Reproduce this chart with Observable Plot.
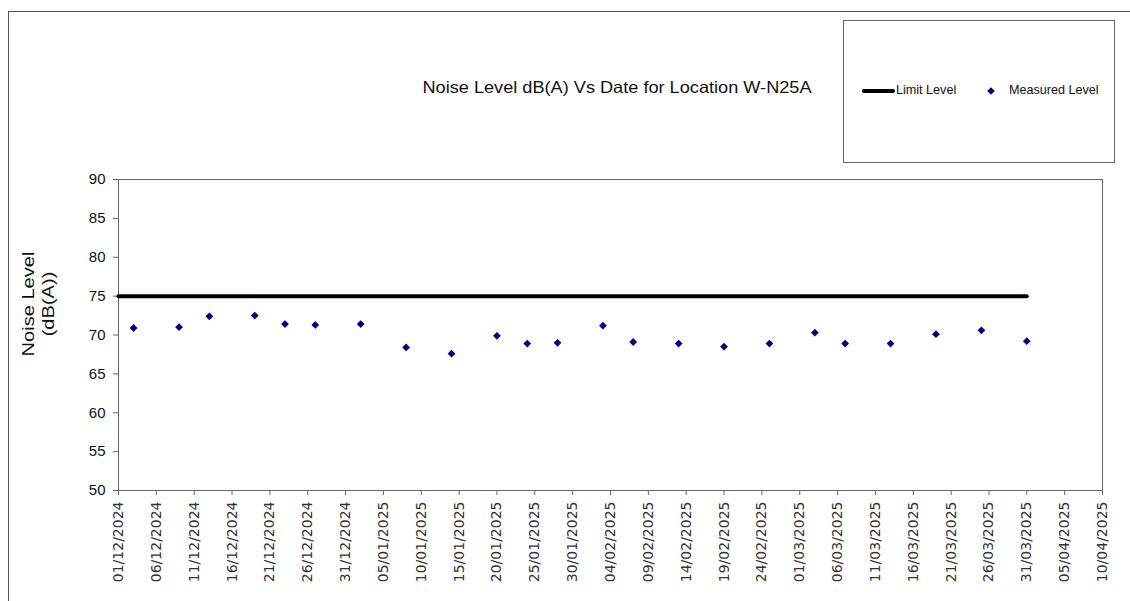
<!DOCTYPE html>
<html>
<head>
<meta charset="utf-8">
<script src="https://cdn.jsdelivr.net/npm/d3@7"></script>
<script src="https://cdn.jsdelivr.net/npm/@observablehq/plot@0.6"></script>
<style>
  html, body { margin: 0; padding: 0; background: #fff; }
  body { width: 1130px; height: 601px; position: relative; overflow: hidden; font-family: "Liberation Sans", Arial, sans-serif; }
  #chart { position: absolute; left: 0; top: 0; }
  #outer { position: absolute; left: 8px; top: 11px; width: 1200px; height: 700px; border-left: 1px solid #555; border-top: 1px solid #555; }
  #title { position: absolute; left: 617px; top: 87px; transform: translate(-50%, -50%) scaleX(1.1); font-size: 16.5px; color: #111; white-space: nowrap; }
  #ylabel { position: absolute; left: 39px; top: 304px; width: 200px; transform: translate(-50%, -50%) rotate(-90deg) scaleX(1.18); text-align: center; font-size: 17px; line-height: 20px; color: #111; }
  #legend { position: absolute; left: 843px; top: 20px; width: 270px; height: 141px; border: 1px solid #666; background: #fff; }
  #legend .txt { position: absolute; font-size: 12.6px; color: #111; white-space: nowrap; top: 62px; }
</style>
</head>
<body>
<div id="outer"></div>
<div id="chart"></div>
<div id="title">Noise Level dB(A) Vs Date for Location W-N25A</div>
<div id="ylabel">Noise Level<br>(dB(A))</div>
<div id="legend">
  <svg width="270" height="141" style="position:absolute;left:0;top:0">
    <line x1="20" y1="70" x2="49" y2="70" stroke="#000" stroke-width="4" stroke-linecap="round"></line>
    <path d="M147,66.2 L150.8,70 L147,73.8 L143.2,70 Z" fill="#000080"></path>
  </svg>
  <div class="txt" style="left:52px">Limit Level</div>
  <div class="txt" style="left:165px">Measured Level</div>
</div>
<script>
// Measured data
const measuredDates = [
  "2024-12-03","2024-12-09","2024-12-13","2024-12-19","2024-12-23","2024-12-27",
  "2025-01-02","2025-01-08","2025-01-14","2025-01-20","2025-01-24","2025-01-28",
  "2025-02-03","2025-02-07","2025-02-13","2025-02-19","2025-02-25",
  "2025-03-03","2025-03-07","2025-03-13","2025-03-19","2025-03-25","2025-03-31"
];
const measuredLevels = [
  70.9, 71.0, 72.4, 72.5, 71.4, 71.3,
  71.4, 68.4, 67.6, 69.9, 68.9, 69.0,
  71.2, 69.1, 68.9, 68.5, 68.9,
  70.3, 68.9, 68.9, 70.1, 70.6, 69.2
];
// Limit level
const limitDates = ["2024-12-01", "2025-03-31"];
const limitLevels = [75, 75];
// Axis ticks
const xTickDates = [
  "2024-12-01","2024-12-06","2024-12-11","2024-12-16","2024-12-21","2024-12-26","2024-12-31",
  "2025-01-05","2025-01-10","2025-01-15","2025-01-20","2025-01-25","2025-01-30",
  "2025-02-04","2025-02-09","2025-02-14","2025-02-19","2025-02-24",
  "2025-03-01","2025-03-06","2025-03-11","2025-03-16","2025-03-21","2025-03-26","2025-03-31",
  "2025-04-05","2025-04-10"
];
const yTicks = [50, 55, 60, 65, 70, 75, 80, 85, 90];
const xDomain = ["2024-12-01", "2025-04-10"];
const yDomain = [50, 90];

const measured = measuredDates.map((d, i) => ({date: new Date(d), level: measuredLevels[i]}));
const limit = limitDates.map((d, i) => ({date: new Date(d), level: limitLevels[i]}));
const fmt = d3.utcFormat("%d/%m/%Y");

const chart = Plot.plot({
  width: 1130,
  height: 601,
  marginLeft: 118,
  marginRight: 28,
  marginTop: 179,
  marginBottom: 111,
  style: {fontFamily: "Liberation Sans, Arial, sans-serif", background: "transparent", overflow: "visible"},
  x: {type: "utc", domain: xDomain.map(d => new Date(d))},
  y: {domain: yDomain},
  marks: [
    Plot.frame({stroke: "#666"}),
    Plot.axisX({
      ticks: xTickDates.map(d => new Date(d)),
      tickFormat: fmt,
      tickRotate: -90,
      tickSize: 5,
      tickPadding: 6,
      fontSize: 14,
      fontFamily: "DejaVu Sans",
      fill: "#333",
      stroke: "#666",
      label: null
    }),
    Plot.axisY({
      ticks: yTicks,
      tickSize: 5,
      tickPadding: 8,
      fontSize: 15,
      fill: "#111",
      stroke: "#666",
      label: null
    }),
    Plot.line(limit, {x: "date", y: "level", stroke: "#000", strokeWidth: 4}),
    Plot.dot(measured, {x: "date", y: "level", symbol: "diamond2", r: 3.5, fill: "#000080", stroke: "none"})
  ]
});
document.getElementById("chart").appendChild(chart);
</script>
</body>
</html>
